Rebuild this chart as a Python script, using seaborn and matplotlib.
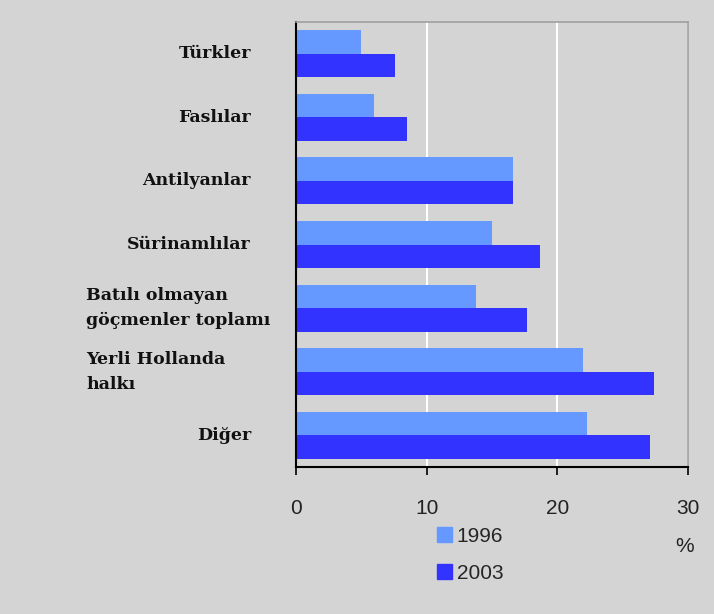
import matplotlib
matplotlib.use("Agg")
import matplotlib.pyplot as plt
import matplotlib.patches as mpatches
import matplotlib.transforms as mtrans
import seaborn as sns
import pandas as pd

categories = ["Türkler", "Faslılar", "Antilyanlar", "Sürinamlılar",
              "Batılı olmayan\ngöçmenler toplamı", "Yerli Hollanda\nhalkı", "Diğer"]
values_1996 = [5.0, 6.0, 16.6, 15.0, 13.8, 22.0, 22.3]
values_2003 = [7.6, 8.5, 16.6, 18.7, 17.7, 27.4, 27.1]
years = ["1996", "2003"]
x_ticks = [0, 10, 20, 30]

bg = "#d4d4d4"
colors = {"1996": "#6699ff", "2003": "#3333ff"}

rows = []
for c, a, b in zip(categories, values_1996, values_2003):
    rows.append({"cat": c, "year": "1996", "val": a})
    rows.append({"cat": c, "year": "2003", "val": b})
df = pd.DataFrame(rows)

sns.set_style("white")
fig = plt.figure(figsize=(7.14, 6.14), dpi=100, facecolor=bg)
ax = fig.add_axes([296/714, 1-467/614, (688-296)/714, (467-22)/614])
ax.set_facecolor(bg)

sns.barplot(data=df, y="cat", x="val", hue="year", orient="h",
            palette=colors, width=0.74, saturation=1, legend=False, ax=ax,
            order=categories, hue_order=years, edgecolor="none", linewidth=0)

ax.set_xlim(0, 30)
ax.set_xticks(x_ticks)
ax.set_xticklabels([str(t) for t in x_ticks], fontsize=15, color="#222222",
                   family="Liberation Sans")
ax.tick_params(axis="x", direction="out", length=6, width=1.2, color="black", pad=17,
               bottom=True)
ax.tick_params(axis="y", left=False)
ax.set_xlabel("")
ax.set_ylabel("")
ax.set_yticklabels([])
ax.grid(axis="x", color="white", linewidth=1.5)
ax.set_axisbelow(True)
for s in ["top", "right"]:
    ax.spines[s].set_color("#a0a0a0")
    ax.spines[s].set_linewidth(1.2)
for s in ["left", "bottom"]:
    ax.spines[s].set_color("black")
    ax.spines[s].set_linewidth(1.5)

# category labels
trans = mtrans.blended_transform_factory(fig.transFigure, ax.transData)
lab_kw = dict(fontsize=12.5, fontweight="bold", family="DejaVu Serif", color="#111111")
for i, c in enumerate(categories):
    if "\n" in c:
        ax.text(86/714, i, c, transform=trans, ha="left", va="center",
                linespacing=1.6, **lab_kw)
    else:
        ax.text(251/714, i, c, transform=trans, ha="right", va="center", **lab_kw)

handles = [mpatches.Patch(color=colors[y], label=y) for y in years]
fig.legend(handles=handles, loc="upper left", bbox_to_anchor=(437/714, 1-527/614),
           frameon=False, handlelength=0.7, handleheight=0.7, borderpad=0,
           borderaxespad=0, handletextpad=0.25, labelspacing=0.85,
           prop={"family": "Liberation Sans", "size": 15})
fig.text(685/714, 1-546/614, "%", ha="center", va="center", fontsize=15,
         family="Liberation Sans", color="#222222")

fig.savefig("out.png", dpi=100, facecolor=bg)
